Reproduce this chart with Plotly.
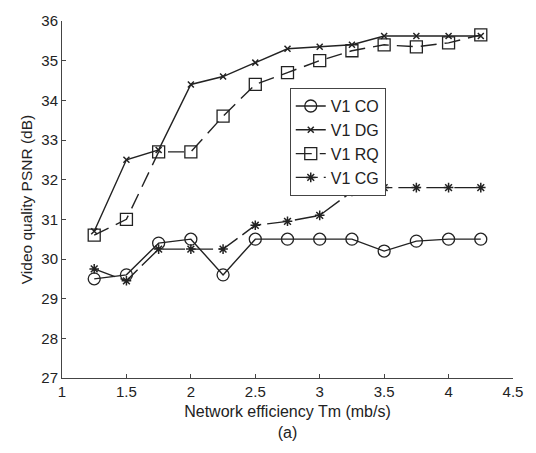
import plotly.graph_objects as go

x_vals = [1.25, 1.5, 1.75, 2.0, 2.25, 2.5, 2.75, 3.0, 3.25, 3.5, 3.75, 4.0, 4.25]
co_vals = [29.5, 29.6, 30.4, 30.5, 29.6, 30.5, 30.5, 30.5, 30.5, 30.2, 30.45, 30.5, 30.5]
dg_vals = [30.7, 32.5, 32.75, 34.4, 34.6, 34.95, 35.3, 35.35, 35.4, 35.62, 35.62, 35.62, 35.62]
rq_vals = [30.6, 31.0, 32.7, 32.7, 33.6, 34.4, 34.7, 35.0, 35.25, 35.4, 35.35, 35.45, 35.65]
cg_vals = [29.75, 29.45, 30.25, 30.25, 30.25, 30.85, 30.95, 31.1, 31.7, 31.8, 31.8, 31.8, 31.8]
x_ticks = [1, 1.5, 2, 2.5, 3, 3.5, 4, 4.5]
y_ticks = [27, 28, 29, 30, 31, 32, 33, 34, 35, 36]

LC = "#222222"
fig = go.Figure()
fig.add_trace(go.Scatter(x=x_vals, y=co_vals, name="V1 CO", mode="lines+markers",
                         line=dict(color=LC, width=1.4),
                         marker=dict(symbol="circle-open", size=12, color=LC, line=dict(width=1.3))))
fig.add_trace(go.Scatter(x=x_vals, y=dg_vals, name="V1 DG", mode="lines+markers",
                         line=dict(color=LC, width=1.4),
                         marker=dict(symbol="x-thin-open", size=6, color=LC, line=dict(width=1.5))))
fig.add_trace(go.Scatter(x=x_vals, y=rq_vals, name="V1 RQ", mode="lines+markers",
                         line=dict(color=LC, width=1.4, dash="16px,8px"),
                         marker=dict(symbol="square-open", size=12, color=LC, line=dict(width=1.3))))
fig.add_trace(go.Scatter(x=x_vals, y=cg_vals, name="V1 CG", mode="lines+markers",
                         line=dict(color=LC, width=1.4, dash="22px,6px"),
                         marker=dict(symbol="asterisk-open", size=8, color=LC, line=dict(width=1.5))))

axis_common = dict(showgrid=False, zeroline=False, showline=True, linecolor="#444444", linewidth=1,
                   ticks="inside", ticklen=4, tickcolor="#444444", mirror=False,
                   tickfont=dict(family="Liberation Sans, Arial", size=15, color="#222222"))
fig.update_layout(
    width=536, height=453,
    margin=dict(l=62, r=23, t=12, b=75),
    paper_bgcolor="white", plot_bgcolor="white",
    font=dict(family="Liberation Sans, Arial", size=15, color="#222222"),
    xaxis=dict(range=[1, 4.5], tickvals=x_ticks, ticktext=[str(v) for v in x_ticks],
               title=dict(text="Network efficiency Tm (mb/s)<br>(a)", standoff=6, font=dict(size=16)),
               **axis_common),
    yaxis=dict(range=[27, 36], tickvals=y_ticks,
               title=dict(text="Video quality PSNR (dB)", standoff=4, font=dict(size=15.5)),
               **axis_common),
    legend=dict(x=0.505, y=0.812, xanchor="left", yanchor="top",
                bordercolor="#444444", borderwidth=1, bgcolor="white",
                font=dict(size=16), tracegroupgap=0, itemwidth=30),
    showlegend=True,
)
fig.write_html("out.html")
